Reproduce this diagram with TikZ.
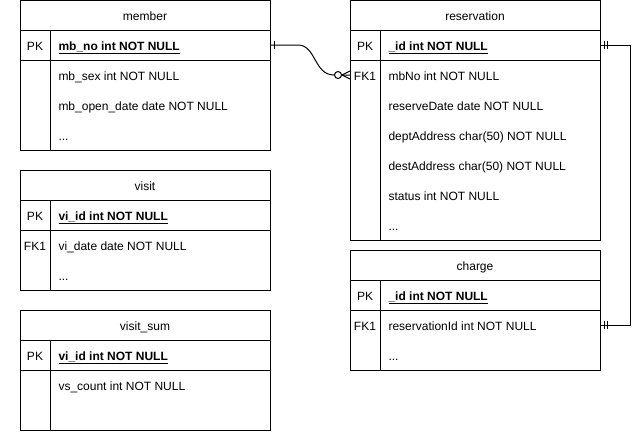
\documentclass[tikz,border=0pt]{standalone}
\usepackage{fontspec}
\setmainfont{Liberation Sans}
\usetikzlibrary{calc}
\newcommand\fs{\fontsize{12}{14}\selectfont}
\newcommand\ertbl[5]{%
  \node[tbl, minimum height=#4pt] (#1) at (#2,#3) {};
  \draw ($(#1.north west)+(0,30)$) -- ($(#1.north east)+(0,30)$);
  \draw ($(#1.north west)+(0,60)$) -- ($(#1.north east)+(0,60)$);
  \draw ($(#1.north west)+(30,30)$) -- ($(#1.south west)+(30,0)$);
  \node[ttl] (#1-title) at ($(#1.north)+(0,19.5)$) {#5};
}
\begin{document}
\begin{tikzpicture}[x=1pt,y=-1pt,line width=1pt,
  tbl/.style={draw, anchor=north west, minimum width=250pt, inner sep=0pt, outer sep=0pt},
  rowc/.style={anchor=north west, minimum width=250pt, minimum height=30pt, inner sep=0pt, outer sep=0pt},
  fld/.style={anchor=base west, inner sep=0pt, font=\fs, yshift=-1pt},
  keyl/.style={anchor=base, inner sep=0pt, font=\fs, yshift=-1pt},
  ttl/.style={anchor=base, inner sep=0pt, font=\fs, yshift=-1pt},
  pkf/.style={anchor=base west, inner sep=0pt, font=\fs\bfseries, yshift=-1pt},
  conn/.style={line width=1pt}]
\useasboundingbox (0,0) rectangle (640,432);

% member
\ertbl{member}{20}{0}{150}{member}
\node[rowc] (mbno) at (20,30) {};
\node[keyl] (member-pk) at (35,49.5) {PK};
\node[pkf] (member-f0) at (58,49.5) {\underline{mb\_no int NOT NULL}};
\node[fld] (member-f1) at (58,79.5) {mb\_sex int NOT NULL};
\node[fld] (member-f2) at (58,109.5) {mb\_open\_date date NOT NULL};
\node[fld] (member-f3) at (58,139.5) {...};

% visit
\ertbl{visit}{20}{170}{120}{visit}
\node[keyl] (visit-pk) at (35,219.5) {PK};
\node[pkf] (visit-f0) at (58,219.5) {\underline{vi\_id int NOT NULL}};
\node[keyl] (visit-fk) at (35,249.5) {FK1};
\node[fld] (visit-f1) at (58,249.5) {vi\_date date NOT NULL};
\node[fld] (visit-f2) at (58,279.5) {...};

% visit_sum
\ertbl{vsum}{20}{310}{120}{visit\_sum}
\node[keyl] (vsum-pk) at (35,359.5) {PK};
\node[pkf] (vsum-f0) at (58,359.5) {\underline{vi\_id int NOT NULL}};
\node[fld] (vsum-f1) at (58,389.5) {vs\_count int NOT NULL};

% reservation
\ertbl{res}{350}{0}{240}{reservation}
\node[rowc] (respk) at (350,30) {};
\node[rowc] (resfk) at (350,60) {};
\node[keyl] (res-pk) at (365,49.5) {PK};
\node[pkf] (res-f0) at (388,49.5) {\underline{\_id int NOT NULL}};
\node[keyl] (res-fk) at (365,79.5) {FK1};
\node[fld] (res-f1) at (388,79.5) {mbNo int NOT NULL};
\node[fld] (res-f2) at (388,109.5) {reserveDate date NOT NULL};
\node[fld] (res-f3) at (388,139.5) {deptAddress char(50) NOT NULL};
\node[fld] (res-f4) at (388,169.5) {destAddress char(50) NOT NULL};
\node[fld] (res-f5) at (388,199.5) {status int NOT NULL};
\node[fld] (res-f6) at (388,229.5) {...};

% charge
\ertbl{charge}{350}{250}{120}{charge}
\node[rowc] (chfk) at (350,310) {};
\node[keyl] (charge-pk) at (365,299.5) {PK};
\node[pkf] (charge-f0) at (388,299.5) {\underline{\_id int NOT NULL}};
\node[keyl] (charge-fk) at (365,329.5) {FK1};
\node[fld] (charge-f1) at (388,329.5) {reservationId int NOT NULL};
\node[fld] (charge-f2) at (388,359.5) {...};

% connector member -> reservation (one to zero-or-many)
\draw[conn] (mbno.east) -- ($(mbno.east)+(28,0)$)
  .. controls ($(mbno.east)+(46,0)$) and ($(resfk.west)+(-36,0)$) .. ($(resfk.west)+(-16,0)$)
  -- (resfk.west);
\draw[conn] ($(mbno.east)+(4,-4)$) -- ($(mbno.east)+(4,4)$);
\draw[conn] ($(resfk.west)+(-8,0)$) -- ($(resfk.west)+(0,-4)$);
\draw[conn] ($(resfk.west)+(-8,0)$) -- ($(resfk.west)+(0,4)$);
\draw[conn, fill=white] ($(resfk.west)+(-12,0)$) circle (3.5pt);

% connector reservation -> charge (mandatory one both ends)
\coordinate (elbow) at ($(respk.east)+(30,0)$);
\draw[conn] (respk.east) -- (elbow) |- (chfk.east);
\draw[conn] ($(respk.east)+(4,-4)$) -- ($(respk.east)+(4,4)$);
\draw[conn] ($(respk.east)+(7.5,-4)$) -- ($(respk.east)+(7.5,4)$);
\draw[conn] ($(chfk.east)+(4,-4)$) -- ($(chfk.east)+(4,4)$);
\draw[conn] ($(chfk.east)+(7.5,-4)$) -- ($(chfk.east)+(7.5,4)$);
\end{tikzpicture}
\end{document}
